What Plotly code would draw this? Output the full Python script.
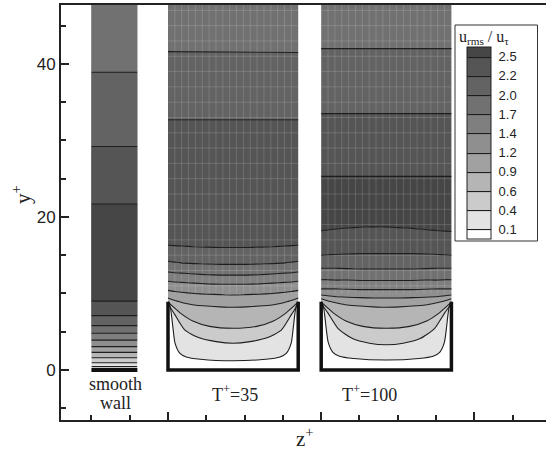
import plotly.graph_objects as go

# ---------------- data ----------------
LEVELS = [0.1, 0.3667, 0.6333, 0.9, 1.1667, 1.4333, 1.7, 1.9667, 2.2333, 2.5]
LEVEL_LABELS = ["0.1", "0.4", "0.6", "0.9", "1.2", "1.4", "1.7", "2.0", "2.2", "2.5"]
BAND_COLORS = ["#ffffff", "#e3e3e3", "#cbcbcb", "#b5b5b5", "#a1a1a1", "#8f8f8f",
               "#7f7f7f", "#717171", "#636363", "#555555", "#464646"]

# smooth wall: 1-D profile of u_rms/u_tau versus y+
SMOOTH_Z = [-20, -8]
SMOOTH_Y = [0, 0.43, 0.95, 1.6, 2.3, 3.05, 3.9, 4.8, 5.8, 7.1, 9.0, 15.0, 21.7, 29.2, 38.9, 48.0]
SMOOTH_U = [0, 0.1, 0.3667, 0.6333, 0.9, 1.1667, 1.4333, 1.7, 1.9667, 2.2333, 2.5, 2.7,
            2.5, 2.2333, 1.9667, 1.8]

RIBLET_H = 8.9          # wall (blade) height in y+
COL_WIDTH = 34          # width of a riblet cell on the z+ axis
T35_Z0 = 0
T100_Z0 = 40
TOP_Y = 48

F13 = [0, .05, .1, .2, .3, .4, .5, .6, .7, .8, .9, .95, 1]
F15 = [0, .03, .07, .12, .2, .3, .4, .5, .6, .7, .8, .88, .93, .97, 1]
F_C0 = [0, .01, .02, .028, .04, .054, .09, .14, .25, .5, .75, .86, .91, .946, .96, .972, .98, .99, 1]
F_C1 = [0, .02, .05, .13, .24, .37, .5, .63, .76, .87, .95, .98, 1]
F_C2 = [0, .03, .09, .19, .32, .5, .68, .81, .91, .97, 1]
F_FLAT = [0, 1]

# T+=35 contour lines (level index, z-fraction, y+)
T35_LINES = [
    (0, F_C0, [8.9, 8.6, 8.0, 7.0, 5.2, 3.5, 2.2, 1.7, 1.4, 1.2, 1.4, 1.7, 2.2, 3.5, 5.2, 7.0, 8.0, 8.6, 8.9]),
    (1, F_C1, [8.9, 8.1, 7.3, 5.2, 4.2, 3.7, 3.5, 3.7, 4.2, 5.2, 7.3, 8.1, 8.9]),
    (2, F_C2, [8.9, 8.4, 7.5, 6.4, 5.7, 5.45, 5.7, 6.4, 7.5, 8.4, 8.9]),
    (3, F15, [9.4, 9.2, 9.0, 8.75, 8.5, 8.35, 8.25, 8.2, 8.25, 8.35, 8.5, 8.75, 9.0, 9.2, 9.4]),
    (4, F13, [10.4, 10.25, 10.15, 10.0, 9.9, 9.85, 9.8, 9.85, 9.9, 10.0, 10.15, 10.25, 10.4]),
    (5, F13, [11.6, 11.5, 11.45, 11.35, 11.25, 11.2, 11.2, 11.2, 11.25, 11.35, 11.45, 11.5, 11.6]),
    (6, F13, [12.8, 12.7, 12.65, 12.55, 12.45, 12.4, 12.4, 12.4, 12.45, 12.55, 12.65, 12.7, 12.8]),
    (7, F13, [14.2, 14.1, 14.0, 13.9, 13.85, 13.8, 13.8, 13.8, 13.85, 13.9, 14.0, 14.1, 14.2]),
    (8, F13, [16.3, 16.25, 16.2, 16.1, 16.05, 16.0, 16.0, 16.0, 16.05, 16.1, 16.2, 16.25, 16.3]),
    (8, F_FLAT, [32.7, 32.7]),
    (7, F_FLAT, [41.6, 41.5]),
]

# T+=100 contour lines
T100_LINES = [
    (0, F_C0, [8.9, 8.6, 8.0, 7.0, 5.2, 3.6, 2.3, 1.8, 1.5, 1.3, 1.5, 1.8, 2.3, 3.6, 5.2, 7.0, 8.0, 8.6, 8.9]),
    (1, F_C1, [8.9, 8.2, 7.5, 5.4, 4.1, 3.5, 3.3, 3.5, 4.1, 5.4, 7.5, 8.2, 8.9]),
    (2, F_C2, [8.9, 8.4, 7.5, 6.4, 5.7, 5.45, 5.7, 6.4, 7.5, 8.4, 8.9]),
    (3, F15, [9.3, 9.15, 8.95, 8.75, 8.5, 8.35, 8.25, 8.2, 8.25, 8.35, 8.5, 8.75, 8.95, 9.15, 9.3]),
    (4, F13, [9.8, 9.7, 9.6, 9.5, 9.45, 9.4, 9.4, 9.4, 9.45, 9.5, 9.6, 9.7, 9.8]),
    (5, F13, [10.6, 10.6, 10.6, 10.55, 10.5, 10.5, 10.5, 10.5, 10.5, 10.55, 10.6, 10.6, 10.6]),
    (6, F13, [11.8, 11.8, 11.75, 11.75, 11.7, 11.7, 11.7, 11.7, 11.7, 11.75, 11.75, 11.8, 11.8]),
    (7, F13, [13.3, 13.3, 13.3, 13.25, 13.2, 13.2, 13.2, 13.2, 13.2, 13.25, 13.3, 13.3, 13.3]),
    (8, F13, [15.0, 15.05, 15.1, 15.15, 15.2, 15.2, 15.2, 15.2, 15.2, 15.15, 15.1, 15.05, 15.0]),
    (9, F13, [18.2, 18.3, 18.4, 18.55, 18.65, 18.7, 18.7, 18.6, 18.5, 18.35, 18.2, 18.15, 18.1]),
    (9, F_FLAT, [25.3, 25.3]),
    (8, F_FLAT, [33.5, 33.5]),
    (7, F_FLAT, [42.0, 42.0]),
]

MESH_F = [k / 19 for k in range(1, 19)]
MESH_Y = list(range(11, 48, 2))
MESH_Y0 = 10.0

# ---------------- figure ----------------
fig = go.Figure()

# smooth wall column as a real contour plot (also provides the legend colour bar)
cs = (LEVELS[-1] - LEVELS[0]) / 9
fig.add_trace(go.Contour(
    x=SMOOTH_Z, y=SMOOTH_Y, z=[[u, u] for u in SMOOTH_U],
    autocontour=False,
    contours=dict(start=LEVELS[0], end=LEVELS[-1], size=cs, coloring="fill", showlines=True),
    line=dict(color="#1e1e1e", width=1.1, smoothing=0),
    colorscale=[[k / 10, c] for k, c in enumerate(BAND_COLORS)],
    hoverinfo="skip",
    colorbar=dict(
        x=(467 - 61) / 485, xanchor="left", y=(420 - 47) / 415, yanchor="top",
        len=192, lenmode="pixels", thickness=24, thicknessmode="pixels",
        xpad=0, ypad=0, outlinewidth=1, outlinecolor="#222",
        tickmode="array", tickvals=LEVELS, ticktext=LEVEL_LABELS,
        ticks="outside", ticklen=5, tickcolor="rgba(0,0,0,0)",
        tickfont=dict(family="Liberation Sans, Arial", size=13, color="#222"),
        bgcolor="rgba(0,0,0,0)", borderwidth=0,
    ),
))


def band_index(lines, i):
    a = lines[i][0]
    prev = lines[i - 1][0] if i > 0 else a - 1
    if i == len(lines) - 1:
        return a + 1 if a > prev else a
    b = lines[i + 1][0]
    if a != b:
        return max(a, b)
    return a + 1 if a > prev else a


def add_column(lines, z0):
    # filled bands
    for i, (lvl, f, y) in enumerate(lines):
        fig.add_trace(go.Scatter(
            x=[z0 + fi * COL_WIDTH for fi in f], y=y, mode="lines",
            line=dict(width=0, shape="spline", smoothing=0.6),
            fill="none" if i == 0 else "tonexty",
            fillcolor=BAND_COLORS[band_index(lines, i - 1)] if i > 0 else None,
            hoverinfo="skip"))
    fig.add_trace(go.Scatter(
        x=[z0, z0 + COL_WIDTH], y=[TOP_Y, TOP_Y], mode="lines", line=dict(width=0),
        fill="tonexty", fillcolor=BAND_COLORS[band_index(lines, len(lines) - 1)],
        hoverinfo="skip"))
    # mesh
    mx, my = [], []
    for f in MESH_F:
        mx += [z0 + f * COL_WIDTH, z0 + f * COL_WIDTH, None]
        my += [MESH_Y0, TOP_Y, None]
    for yv in MESH_Y:
        mx += [z0, z0 + COL_WIDTH, None]
        my += [yv, yv, None]
    fig.add_trace(go.Scatter(x=mx, y=my, mode="lines",
                             line=dict(color="rgba(255,255,255,0.15)", width=1),
                             hoverinfo="skip"))


def add_column_lines(lines, z0):
    for lvl, f, y in lines:
        fig.add_trace(go.Scatter(
            x=[z0 + fi * COL_WIDTH for fi in f], y=y, mode="lines",
            line=dict(color="#1e1e1e", width=1.1, shape="spline", smoothing=0.6),
            hoverinfo="skip"))


def add_walls(z0):
    fig.add_trace(go.Scatter(
        x=[z0, z0, z0 + COL_WIDTH, z0 + COL_WIDTH], y=[RIBLET_H, 0, 0, RIBLET_H],
        mode="lines", line=dict(color="#111", width=3.5), hoverinfo="skip"))


add_column(T35_LINES, T35_Z0)
add_column(T100_LINES, T100_Z0)
add_column_lines(T35_LINES, T35_Z0)
add_column_lines(T100_LINES, T100_Z0)
add_walls(T35_Z0)
add_walls(T100_Z0)
fig.add_trace(go.Scatter(x=SMOOTH_Z, y=[0, 0], mode="lines",
                         line=dict(color="#111", width=4), hoverinfo="skip"))

serif = "Liberation Serif, Times New Roman, serif"
sans = "Liberation Sans, Arial, sans-serif"

fig.update_layout(
    width=546, height=452,
    margin=dict(l=61, r=0, t=5, b=32, pad=0, autoexpand=False),
    paper_bgcolor="white", plot_bgcolor="white",
    showlegend=False,
    font=dict(family=sans, color="#222"),
    shapes=[dict(type="rect", xref="paper", yref="paper",
                 x0=(455 - 61) / 485, x1=(537.5 - 61) / 485,
                 y0=(420 - 241) / 415, y1=(420 - 25) / 415,
                 line=dict(color="#333", width=1), fillcolor="white", layer="above")],
    annotations=[
        dict(text="smooth", x=-13.8, y=-1.85, xref="x", yref="y", showarrow=False,
             xanchor="center", font=dict(family=serif, size=18, color="#222")),
        dict(text="wall", x=-13.8, y=-4.3, xref="x", yref="y", showarrow=False,
             xanchor="center", font=dict(family=serif, size=18, color="#222")),
        dict(text="T<sup>+</sup>=35", x=17.5, y=-3.1, xref="x", yref="y", showarrow=False,
             xanchor="center", font=dict(family=serif, size=18, color="#222")),
        dict(text="T<sup>+</sup>=100", x=52.7, y=-3.1, xref="x", yref="y", showarrow=False,
             xanchor="center", font=dict(family=serif, size=18, color="#222")),
        dict(text="z<sup>+</sup>", x=(305 - 61) / 485, y=(420 - 453) / 415, xref="paper",
             yref="paper", xanchor="center", yanchor="bottom", showarrow=False,
             font=dict(family=serif, size=21, color="#222")),
        dict(text="y<sup>+</sup>", x=(21 - 61) / 485, y=(420 - 195) / 415, xref="paper",
             yref="paper", xanchor="center", yanchor="middle", showarrow=False, textangle=-90,
             font=dict(family=serif, size=21, color="#222")),
        dict(text="u<sub>rms</sub> / u<sub>τ</sub>", x=(484 - 61) / 485, y=(420 - 26) / 415,
             xref="paper", yref="paper", xanchor="center", yanchor="top", showarrow=False,
             font=dict(family=serif, size=16, color="#222")),
    ],
)

fig.update_xaxes(
    range=[-27.94, 98.7], showgrid=False, zeroline=False, showline=True,
    linecolor="#222", linewidth=2, mirror=True, ticks="inside",
    tickvals=[0, 40, 80], ticklen=8, tickwidth=2, tickcolor="#222",
    showticklabels=False,
    minor=dict(dtick=10, tick0=0, ticks="inside", ticklen=5, tickwidth=1.5, tickcolor="#222"),
)
fig.update_yaxes(
    range=[-6.54, 47.7], showgrid=False, zeroline=False, showline=True,
    linecolor="#222", linewidth=2, mirror=False, ticks="inside",
    tickvals=[0, 20, 40], ticklen=8, tickwidth=2, tickcolor="#222",
    tickfont=dict(family=sans, size=17, color="#222"),
    minor=dict(dtick=5, tick0=0, ticks="inside", ticklen=5, tickwidth=1.5, tickcolor="#222"),
)

fig.write_html("out.html", config={"displayModeBar": False},
               post_script="document.body.style.margin='0';document.body.style.padding='0';")
